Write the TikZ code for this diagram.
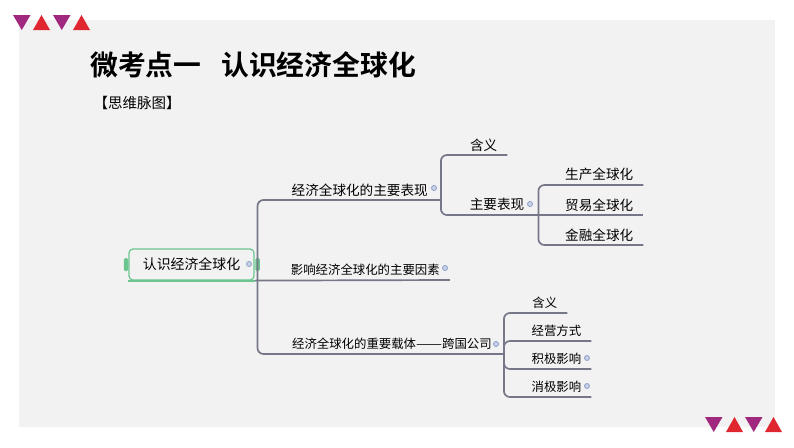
\documentclass[tikz,border=0pt]{standalone}
\usepackage{fontspec}
\setmainfont{Noto Sans CJK SC}
\newfontfamily\titlefont[BoldFont={Noto Sans CJK SC Bold}]{Noto Sans CJK SC}
\newfontfamily\dashfont[FakeStretch=1.25]{Noto Sans CJK SC}
\definecolor{panelgray}{HTML}{F2F2F2}
\definecolor{markpurple}{HTML}{A0287F}
\definecolor{markred}{HTML}{E0262F}
\definecolor{rootgreen}{HTML}{6CC48F}
\definecolor{branchgray}{HTML}{77778A}
\definecolor{foldblue}{HTML}{8A9CC8}
\tikzset{
    branch/.style={draw=branchgray,line width=1.7pt,rounded corners=6pt},
    topic/.style={anchor=south west,inner xsep=10pt,inner ysep=0pt,minimum height=20pt,align=right,text width=#1},
    bigtopic/.style={topic=#1,font=\fontsize{13.6}{16}\selectfont},
    smalltopic/.style={topic=#1,font=\fontsize{12.4}{15}\selectfont},
    fold/.style={circle,draw=foldblue,fill=foldblue!45,line width=.8pt,inner sep=0pt,minimum size=5pt},
    roottab/.style={rounded corners=1.5pt,fill=rootgreen,inner sep=0pt,minimum width=4.5pt,minimum height=13pt},
}
\begin{document}
\begin{tikzpicture}[x=1pt,y=-1pt]
    \useasboundingbox (0,0) rectangle (794,447);
    \fill[panelgray] (19,20) rectangle (775,427);
    % corner marks
    \foreach \x/\y in {13/15,53/15,705/417,745/417}
        \fill[markpurple] (\x,\y) -- ++(17.5,0) -- ++(-8.75,15) -- cycle;
    \foreach \x/\y in {33/15,73/15,726/417,765/417}
        \fill[markred] (\x,\y+15) -- ++(17,0) -- ++(-8.5,-15) -- cycle;

    \node[anchor=west,inner sep=0pt,font=\titlefont\bfseries\fontsize{27.8}{32}\selectfont] (title) at (90,65) {微考点一\hspace{20pt}认识经济全球化};
    \node[inner sep=0pt,font=\fontsize{14.5}{17}\selectfont] (subtitle) at (137,103) {【思维脉图】};

    \node[draw=rootgreen,line width=1.2pt,rounded corners=4pt,minimum width=125pt,minimum height=31pt,inner sep=0pt,font=\fontsize{13.9}{16}\selectfont] (root) at (191.5,264.5) {\raisebox{-1pt}{认识经济全球化}};
    \node[roottab] (tabL) at (126,264.5) {};
    \node[roottab] (tabR) at (257.5,264.5) {};

    \node[bigtopic=157pt,inner xsep=13pt] (biaoxian) at (257.5,200) {经济全球化的主要表现};
    \node[smalltopic=172pt] (yinsu) at (257.5,280) {影响经济全球化的主要因素};
    \node[smalltopic=222pt,inner xsep=12pt] (zaiti) at (257.5,354) {经济全球化的重要载体{\dashfont——}跨国公司};

    \node[bigtopic=44pt] (hanyiA) at (443,155) {含义};
    \node[bigtopic=67pt,inner xsep=14pt] (zhuyao) at (443,215) {主要表现};
    \node[bigtopic=85pt] (shengchan) at (538,185) {生产全球化};
    \node[bigtopic=85pt] (maoyi) at (538,215) {贸易全球化};
    \node[bigtopic=85pt] (jinrong) at (538,245) {金融全球化};

    \node[smalltopic=43pt] (hanyiB) at (504,313) {含义};
    \node[smalltopic=67pt] (jingying) at (504,341) {经营方式};
    \node[smalltopic=67pt] (jiji) at (504,369) {积极影响};
    \node[smalltopic=67pt] (xiaoji) at (504,397) {消极影响};

    \draw[branch] (tabR.center) |- (biaoxian.south east);
    \draw[branch] (tabR.center) |- (zaiti.south east);
    \draw[branch] (root.south east) -- (yinsu.south east);
    \draw[branch] (biaoxian.south east) |- (hanyiA.south east);
    \draw[branch] (biaoxian.south east) |- (zhuyao.south east);
    \draw[branch] (zhuyao.south east) |- (shengchan.south east);
    \draw[branch] (zhuyao.south east) -- (maoyi.south east);
    \draw[branch] (zhuyao.south east) |- (jinrong.south east);
    \draw[branch] (zaiti.south east) |- (hanyiB.south east);
    \draw[branch] (zaiti.south east) |- (jingying.south east);
    \draw[branch] (zaiti.south east) |- (jiji.south east);
    \draw[branch] (zaiti.south east) |- (xiaoji.south east);
    \draw[rootgreen,line width=2pt] (root.south west) -- (root.south east);

    \node[fold] (foldroot) at (249,264) {};
    \node[fold] (foldbiaoxian) at (434,188) {};
    \node[fold] (foldyinsu) at (445,268) {};
    \node[fold] (foldzaiti) at (496,344) {};
    \node[fold] (foldzhuyao) at (530,204) {};
    \node[fold] (foldjiji) at (587,358) {};
    \node[fold] (foldxiaoji) at (587,386) {};
\end{tikzpicture}
\end{document}
